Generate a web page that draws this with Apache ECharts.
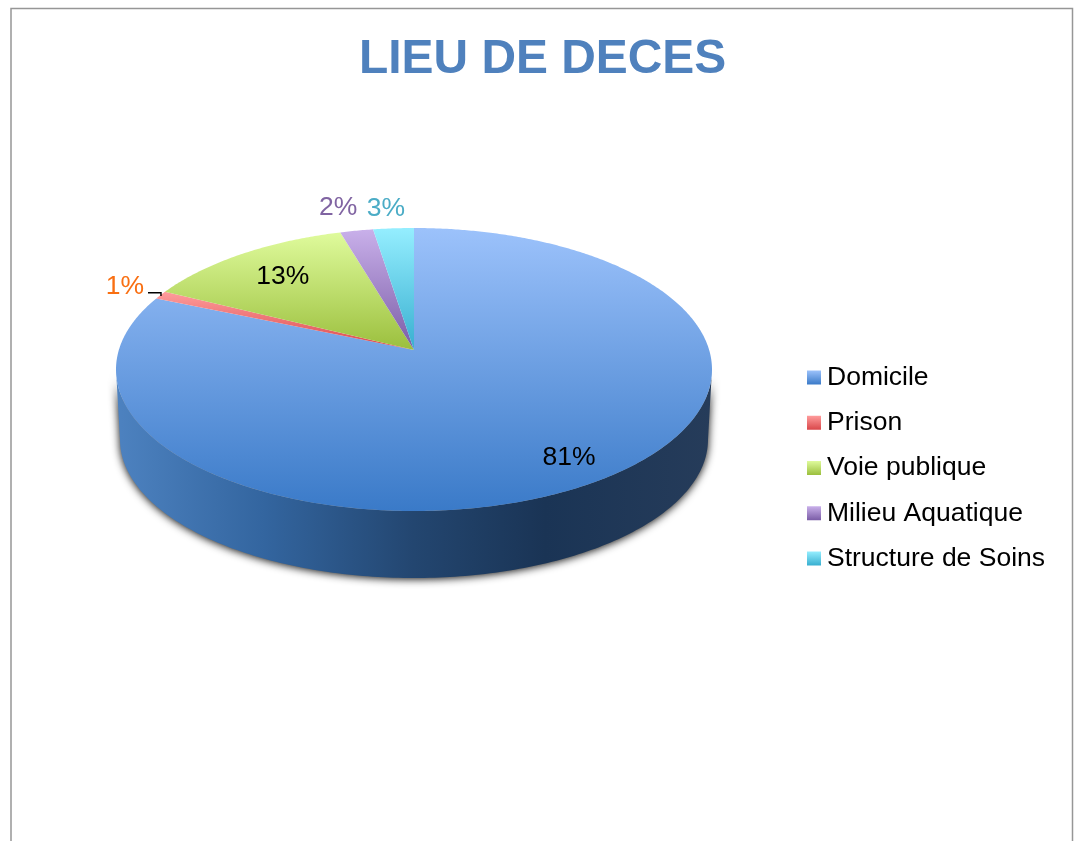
<!DOCTYPE html>
<html><head><meta charset="utf-8">
<style>html,body{margin:0;padding:0;background:#fff}#c{width:1074px;height:841px}</style>
<script src="https://cdn.jsdelivr.net/npm/echarts@6/dist/echarts.min.js"></script>
</head><body><div id="c"></div>
<script>
const titleText = 'LIEU DE DECES';
const categories = ['Domicile', 'Prison', 'Voie publique', 'Milieu Aquatique', 'Structure de Soins'];
const values = [81.05, 0.95, 13.33, 2.09, 2.58];
const topColors = ['#9cc2fb', '#ff9c9c', '#dffb9c', '#c9b0ea', '#95eeff'];
const bottomColors = ['#3a7ac8', '#d9474a', '#9bbf3d', '#7a5ca6', '#38afd0'];
const labelColors = ['#000000', '#f96f12', '#000000', '#8064a2', '#4bacc6'];
const labelRadial = [0.823, 1.125, 0.76, 1.2, 1.17];
const labelNudge = [[-1.5, 2], [-4, -2], [-1, 0], [-7, 1], [-4, 1]];
const FONT = '"Liberation Sans", Arial, sans-serif';

const G = { cx: 414, cy: 369.5, rx: 298, ry: 141.5, apexY: 350, bcx: 414, bcy: 439.5, brx: 294, bry: 138.5, k: 0.85 };
const total = values.reduce((a, b) => a + b, 0);
const starts = values.map((_, i) => values.slice(0, i).reduce((a, b) => a + b, 0) / total);

function edge(f) {
  const h = f * Math.PI;
  const t = 2 * Math.atan2(Math.sin(h) * G.k, Math.cos(h));
  return [G.cx + G.rx * Math.sin(t), G.cy - G.ry * Math.cos(t)];
}
function vGrad(c0, c1, y0, y1) {
  return new echarts.graphic.LinearGradient(0, y0, 0, y1, [{ offset: 0, color: c0 }, { offset: 1, color: c1 }], true);
}
function legendGrad(i) {
  return new echarts.graphic.LinearGradient(0, 0, 0, 1, [{ offset: 0, color: topColors[i] }, { offset: 1, color: bottomColors[i] }]);
}
function wallPoints() {
  const pts = [];
  for (let a = 180; a >= 0; a -= 1) {
    const r = a * Math.PI / 180;
    pts.push([G.cx + G.rx * Math.cos(r), G.cy + G.ry * Math.sin(r)]);
  }
  for (let a = 0; a <= 180; a += 1) {
    const r = a * Math.PI / 180;
    pts.push([G.bcx + G.brx * Math.cos(r), G.bcy + G.bry * Math.sin(r)]);
  }
  return pts;
}
const wallFill = new echarts.graphic.LinearGradient(116, 0, 712, 0, [
  { offset: 0, color: '#4d82c0' },
  { offset: 0.25, color: '#33659f' },
  { offset: 0.5, color: '#234670' },
  { offset: 0.72, color: '#1a3455' },
  { offset: 1, color: '#263c5a' }
], true);

function makeRender(i) {
  return function (params, api) {
    const v = api.value(0), s = starts[i], e = s + v / total;
    const pts = [[G.cx, G.apexY]];
    const n = Math.max(4, Math.ceil((e - s) * 720));
    for (let k = 0; k <= n; k++) pts.push(edge(s + (e - s) * k / n));
    let minY = Infinity;
    pts.forEach(p => { if (p[1] < minY) minY = p[1]; });
    const maxY = i === 0 ? G.cy + G.ry : G.apexY;
    const children = [];
    if (i === 0) {
      children.push({ type: 'polygon', shape: { points: wallPoints() },
        style: { fill: wallFill, shadowBlur: 9, shadowColor: 'rgba(0,0,0,0.95)', shadowOffsetY: 1 } });
    }
    children.push({ type: 'polygon', shape: { points: pts },
      style: { fill: vGrad(topColors[i], bottomColors[i], i === 0 ? G.cy - G.ry : minY, maxY) } });
    const mid = edge(s + (e - s) / 2);
    const lx = G.cx + (mid[0] - G.cx) * labelRadial[i] + labelNudge[i][0];
    const ly = G.apexY + (mid[1] - G.apexY) * labelRadial[i] + labelNudge[i][1];
    children.push({ type: 'text', z2: 10, style: { x: lx, y: ly, text: Math.round(v) + '%', fill: labelColors[i],
      font: '26.5px ' + FONT, align: 'center', verticalAlign: 'middle' } });
    if (i === 1) {
      children.push({ type: 'polyline', shape: { points: [[148, 292.7], [161, 292.7], [161, 296]] },
        style: { stroke: '#000', lineWidth: 1.4, fill: null } });
    }
    return { type: 'group', children };
  };
}

const chart = echarts.init(document.getElementById('c'), null, { renderer: 'canvas' });
chart.setOption({
  animation: false,
  backgroundColor: '#ffffff',
  title: { text: titleText, left: 359, top: 36, padding: 0,
    textStyle: { fontFamily: FONT, fontSize: 47.9, fontWeight: 'bold', color: '#4f81bd' } },
  legend: { orient: 'vertical', left: 807, top: 362.5, padding: 0, itemWidth: 14, itemHeight: 14, itemGap: 15.25,
    icon: 'rect', selectedMode: false,
    textStyle: { fontFamily: FONT, fontSize: 26.5, color: '#000', lineHeight: 30, padding: [0, 0, 0, 1] },
    data: categories.map((name, i) => ({ name, itemStyle: { color: legendGrad(i) } })) },
  graphic: [{ type: 'polyline', silent: true, shape: { points: [[11, 841], [11, 8.5], [1072.5, 8.5], [1072.5, 841]] },
    style: { stroke: '#969696', lineWidth: 1.5, fill: null } }],
  series: categories.map((name, i) => ({
    type: 'custom', name, coordinateSystem: 'none', silent: true,
    itemStyle: { color: legendGrad(i) },
    renderItem: makeRender(i),
    data: [[values[i]]]
  }))
});
</script></body></html>
